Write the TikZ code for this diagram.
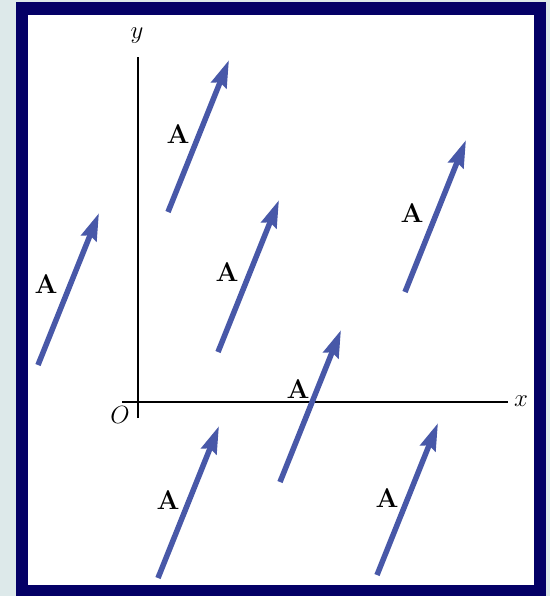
\documentclass[tikz,border=0pt]{standalone}
\usepackage{xcolor}
\usetikzlibrary{arrows.meta,calc}
\definecolor{pagebg}{RGB}{221,233,234}
\definecolor{framenavy}{RGB}{4,0,102}
\definecolor{vecblue}{RGB}{72,88,168}
\tikzset{
  vecarr/.style={vecblue,line width=5.5pt,-{Stealth[length=27pt,width=16pt,inset=3pt]}},
  veclbl/.style={font=\fontsize{27}{30}\selectfont\bfseries,inner sep=0pt},
  axisln/.style={line width=2pt},
  axlbl/.style={font=\fontsize{27}{30}\selectfont,inner sep=0pt}
}
\begin{document}
\begin{tikzpicture}[x=1pt,y=-1pt]
\useasboundingbox (0,0) rectangle (550,596);
\fill[pagebg] (0,0) rectangle (550,596);
\fill[framenavy] (16,2) rectangle (546,596);
\fill[white] (28,15) rectangle (534,585);
\coordinate (yTop) at (138,57);
\coordinate (yBot) at (138,418);
\coordinate (xLeft) at (122,402);
\coordinate (xRight) at (508,402);
\draw[axisln] (yBot) -- (yTop);
\draw[axisln] (xLeft) -- (xRight);
\node[axlbl] (ylab) at (137,36) {$y$};
\node[axlbl] (xlab) at (521,401) {$x$};
\node[axlbl] (olab) at (120,415) {$O$};
\foreach \tx/\ty/\lx/\ly [count=\i] in {38/365/46/284, 168/212/178/134, 218/352/227/272,
    405/292/412/213, 280/482/298/389, 158/578/168/500, 377/575/387/498}{
  \coordinate (tail\i) at (\tx,\ty);
  \coordinate (head\i) at ($(tail\i)+(61,-152)$);
  \draw[vecarr] (tail\i) -- (head\i);
  \node[veclbl] (lblA\i) at (\lx,\ly) {A};
}
\end{tikzpicture}
\end{document}
